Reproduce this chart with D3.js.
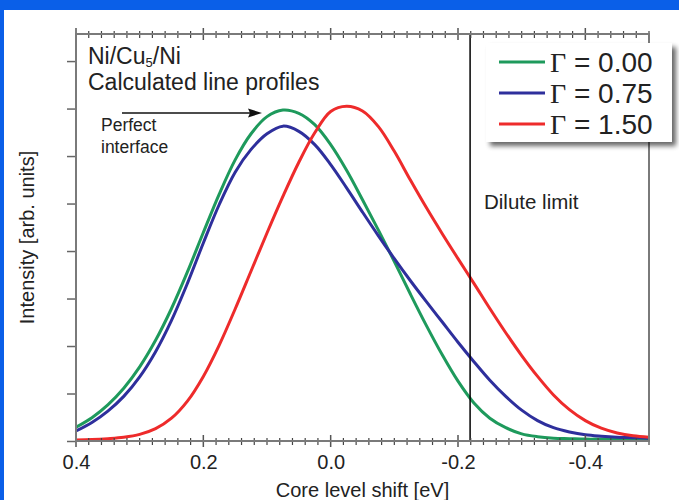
<!DOCTYPE html>
<html><head><meta charset="utf-8">
<script src="https://cdn.jsdelivr.net/npm/d3@7"></script>
<style>
html,body{margin:0;padding:0;background:#0a5fe8;}
svg{display:block;}
</style></head>
<body>
<svg id="chart" width="679" height="500"></svg>
<script>
// ---- data ----
const shiftEV = [0.400,0.375,0.350,0.325,0.300,0.275,0.250,0.225,0.200,0.175,0.150,0.125,0.100,0.075,0.050,0.025,0.000,-0.025,-0.050,-0.075,-0.100,-0.125,-0.150,-0.175,-0.200,-0.225,-0.250,-0.275,-0.300,-0.325,-0.350,-0.375,-0.400,-0.425,-0.450,-0.475,-0.500];
const gamma000 = [0.29,0.49,0.76,1.11,1.56,2.12,2.79,3.56,4.39,5.20,5.92,6.47,6.83,6.97,6.90,6.66,6.24,5.70,5.08,4.44,3.78,3.10,2.44,1.82,1.26,0.80,0.48,0.28,0.15,0.09,0.06,0.05,0.04,0.04,0.04,0.04,0.04];
const gamma075 = [0.21,0.39,0.63,0.94,1.35,1.88,2.54,3.32,4.17,4.98,5.66,6.14,6.47,6.63,6.52,6.24,5.82,5.33,4.82,4.32,3.84,3.38,2.94,2.51,2.08,1.67,1.28,0.94,0.65,0.43,0.28,0.19,0.13,0.10,0.08,0.07,0.06];
const gamma150 = [0.02,0.03,0.05,0.08,0.14,0.26,0.48,0.84,1.36,2.02,2.78,3.58,4.38,5.15,5.87,6.49,6.94,7.05,6.95,6.62,6.10,5.50,4.92,4.37,3.84,3.32,2.79,2.28,1.80,1.36,0.97,0.66,0.43,0.27,0.17,0.11,0.08];
const seriesNames = ["\u0393 = 0.00","\u0393 = 0.75","\u0393 = 1.50"];
const seriesColors = ["#1e9a5c","#2e2f9c","#ee2b2b"];
const xTickLabels = [0.4,0.2,0.0,-0.2,-0.4];
const yTickValues = [0,1,2,3,4,5,6,7,8];
const diluteLimit = -0.219;

const FONT = "Liberation Sans, Arial, Helvetica, sans-serif";
const svg = d3.select("#chart");
svg.append("rect").attr("x",4).attr("y",10).attr("width",675).attr("height",490).attr("fill","#fff");

const L=76,R=649,T=34,B=441;
const x = d3.scaleLinear().domain([0.4,-0.5]).range([L,R]);
const y = d3.scaleLinear().domain([0,8.57]).range([B,T]);

const defs = svg.append("defs");
defs.append("clipPath").attr("id","clip")
  .append("rect").attr("x",L).attr("y",T).attr("width",R-L).attr("height",B-T);

const series = [gamma000,gamma075,gamma150];
const line = d3.line().x(d=>x(d[0])).y(d=>y(d[1])).curve(d3.curveCatmullRom.alpha(0.5));
const g = svg.append("g").attr("clip-path","url(#clip)");
series.forEach((s,i)=>{
  g.append("path").datum(shiftEV.map((v,j)=>[v,s[j]]))
   .attr("d",line).attr("fill","none").attr("stroke",seriesColors[i]).attr("stroke-width",3);
});

svg.append("line").attr("x1",x(diluteLimit)).attr("x2",x(diluteLimit)).attr("y1",T).attr("y2",B)
  .attr("stroke","#000").attr("stroke-width",1.5);

const axCol="#7a7a7a";
const minor = d3.range(0,46).map(k=>0.4-k*0.02);
const major = new Set([0,10,20,30,40]);
function tickRow(yy){
  const gg = svg.append("g");
  minor.forEach((v,k)=>{
    const m = major.has(k);
    gg.append("line").attr("x1",x(v)).attr("x2",x(v))
      .attr("y1",yy-(m?6:3)).attr("y2",yy+(m?6:4))
      .attr("stroke",m?"#555":"#444").attr("stroke-width",m?1.5:1.2);
  });
}
tickRow(T); tickRow(B);

const yAxis = d3.axisLeft(y).tickValues(yTickValues).tickSize(9).tickFormat("");
const ya = svg.append("g").attr("transform",`translate(${L},0)`).call(yAxis);
ya.select(".domain").remove();
ya.selectAll(".tick line").attr("stroke","#666").attr("stroke-width",1.5);

svg.append("rect").attr("x",L).attr("y",T).attr("width",R-L).attr("height",B-T)
  .attr("fill","none").attr("stroke",axCol).attr("stroke-width",2);

const xAxis = d3.axisBottom(x).tickValues(xTickLabels).tickSize(0).tickPadding(14).tickFormat(d=>d.toFixed(1));
const xa = svg.append("g").attr("transform",`translate(0,${B})`).call(xAxis);
xa.select(".domain").remove();
xa.selectAll("text").attr("font-family",FONT).attr("font-size",20).attr("fill","#222");

svg.append("text").attr("x",(L+R)/2).attr("y",497).attr("text-anchor","middle")
  .attr("font-family",FONT).attr("font-size",20).attr("fill","#222")
  .text("Core level shift [eV]");
svg.append("text").attr("transform",`translate(34,${(T+B)/2}) rotate(-90)`).attr("text-anchor","middle")
  .attr("font-family",FONT).attr("font-size",20).attr("fill","#222")
  .text("Intensity [arb. units]");

const t1 = svg.append("text").attr("x",88).attr("y",64)
  .attr("font-family",FONT).attr("font-size",23).attr("fill","#222");
t1.append("tspan").text("Ni/Cu");
t1.append("tspan").attr("font-size",13).attr("dy",3).text("5");
t1.append("tspan").attr("dy",-3).text("/Ni");
svg.append("text").attr("x",88).attr("y",90)
  .attr("font-family",FONT).attr("font-size",23).attr("fill","#222")
  .text("Calculated line profiles");
svg.append("text").attr("x",101).attr("y",131)
  .attr("font-family",FONT).attr("font-size",17.5).attr("fill","#222")
  .text("Perfect");
svg.append("text").attr("x",101).attr("y",153)
  .attr("font-family",FONT).attr("font-size",17.5).attr("fill","#222")
  .text("interface");
svg.append("line").attr("x1",122).attr("x2",250).attr("y1",113).attr("y2",113).attr("stroke","#111").attr("stroke-width",1.5);
svg.append("path").attr("d","M262,113 L248,108.5 L250,113 L248,117.5 Z").attr("fill","#111");
svg.append("text").attr("x",484).attr("y",209)
  .attr("font-family",FONT).attr("font-size",20.5).attr("fill","#222")
  .text("Dilute limit");

const f = defs.append("filter").attr("id","sh").attr("x","-10%").attr("y","-10%").attr("width","130%").attr("height","130%");
f.append("feGaussianBlur").attr("in","SourceAlpha").attr("stdDeviation",2.5);
f.append("feOffset").attr("dx",4).attr("dy",4).attr("result","ob");
f.append("feComponentTransfer").append("feFuncA").attr("type","linear").attr("slope",0.6);
const fm = f.append("feMerge"); fm.append("feMergeNode"); fm.append("feMergeNode").attr("in","SourceGraphic");
svg.append("rect").attr("x",486).attr("y",43).attr("width",186).attr("height",99).attr("fill","#fff").attr("filter","url(#sh)");
seriesNames.forEach((n,i)=>{
  const yy = 62+i*31;
  svg.append("line").attr("x1",499).attr("x2",545).attr("y1",yy).attr("y2",yy).attr("stroke",seriesColors[i]).attr("stroke-width",3);
  const t = svg.append("text").attr("x",550).attr("y",yy+10).attr("font-size",28).attr("fill","#222")
    .attr("font-family",FONT);
  t.append("tspan").attr("font-family","Liberation Serif, Times New Roman, serif").text(n.charAt(0));
  t.append("tspan").text(n.slice(1));
});
</script>
</body></html>
